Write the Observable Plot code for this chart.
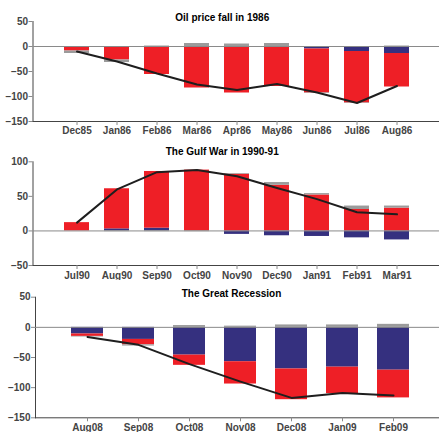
<!DOCTYPE html>
<html><head><meta charset="utf-8">
<script src="https://cdn.jsdelivr.net/npm/d3@7"></script>
<script src="https://cdn.jsdelivr.net/npm/@observablehq/plot@0.6"></script>
<style>
body{margin:0;background:#fff;}
#chart svg{display:block;}
#chart svg g[aria-label*="axis"] line, #chart svg g[aria-label*="axis"] path{stroke:#8a8a8a;}
#chart svg g[aria-label="title"] text{letter-spacing:-0.5px;}
</style></head><body><div id="chart"></div>
<script>
// series (stack order: blue, red, gray)
const seriesNames = ["Aggregate demand", "Oil-specific demand", "Oil supply"];
const seriesColors = ["#35307f", "#ee1f26", "#9b9b9b"];

// Panel 1: Oil price fall in 1986
const p1Title = "Oil price fall in 1986";
const p1Months = ["Dec85","Jan86","Feb86","Mar86","Apr86","May86","Jun86","Jul86","Aug86"];
const p1Blue = [-1, -1, 0, -2, -2, -2, -5, -10, -14];
const p1Red  = [-8, -26, -56, -81, -91, -78, -88, -103, -67];
const p1Gray = [-5, -5, 1, 6, 5, 6, -1, -1, 1];
const p1Line = [-10, -30, -54, -76, -87, -75, -92, -113, -79];
const p1Ticks = [-150, -100, -50, 0, 50];

// Panel 2: The Gulf War in 1990-91
const p2Title = "The Gulf War in 1990-91";
const p2Months = ["Jul90","Aug90","Sep90","Oct90","Nov90","Dec90","Jan91","Feb91","Mar91"];
const p2Blue = [0, 3, 4, 0, -5, -7, -8, -10, -13];
const p2Red  = [12, 58, 82, 88, 82, 66, 52, 31, 33];
const p2Gray = [0, -1, -1, -1, 1, 4, 2, 5, 3];
const p2Line = [12, 60, 85, 88, 79, 62, 46, 27, 24];
const p2Ticks = [-50, 0, 50, 100];

// Panel 3: The Great Recession
const p3Title = "The Great Recession";
const p3Months = ["Aug08","Sep08","Oct08","Nov08","Dec08","Jan09","Feb09"];
const p3Blue = [-11, -20, -46, -57, -69, -66, -71];
const p3Red  = [-4, -9, -17, -37, -51, -44, -46];
const p3Gray = [-1, -2, 3, 2, 4, 4, 5];
const p3Line = [-16, -29, -61, -90, -117, -109, -113];
const p3Ticks = [-150, -100, -50, 0, 50];

function panel(o) {
  const rows = [];
  o.months.forEach((m, i) => o.comps.forEach((arr, k) => rows.push({month: m, series: seriesNames[k], value: arr[i]})));
  const lineRows = o.months.map((m, i) => ({month: m, value: o.line[i]}));
  const pi = 0.38;
  return Plot.plot({
    width: 439, height: o.height,
    marginTop: o.mt, marginBottom: o.mb, marginLeft: o.ml, marginRight: 0,
    style: {fontFamily: "'Liberation Sans', Arial, sans-serif", fontSize: "10px", fontWeight: "bold", color: "#444", background: "white"},
    x: {domain: o.months, range: o.xRange, paddingInner: pi, paddingOuter: (1 + pi) / 2, align: 0.5,
        tickSize: 4, tickPadding: o.xPad, line: true, label: null},
    y: {domain: o.yDomain, ticks: o.yTicks, tickSize: 4, tickPadding: 1, line: true, label: null},
    color: {domain: seriesNames, range: seriesColors},
    marks: [
      Plot.barY(rows, {x: "month", y: "value", fill: "series"}),
      Plot.ruleY([0], {stroke: "#8a8a8a", strokeWidth: 1}),
      Plot.lineY(lineRows, {x: "month", y: "value", stroke: "#1e1e1e", strokeWidth: 2, curve: "linear"}),
      Plot.text([o.title], {text: d => d, frameAnchor: "top", dx: o.tdx, dy: o.tdy, fill: "black",
        fontSize: 10, fontWeight: "bold", ariaLabel: "title"})
    ]
  });
}

const chart = document.getElementById("chart");
chart.appendChild(panel({title: p1Title, months: p1Months, comps: [p1Blue, p1Red, p1Gray], line: p1Line,
  yDomain: [-150, 50], yTicks: p1Ticks, height: 140, mt: 21, mb: 19, ml: 32.5, xRange: [32.5, 440],
  xPad: 1, tdx: -14, tdy: -8}));
chart.appendChild(panel({title: p2Title, months: p2Months, comps: [p2Blue, p2Red, p2Gray], line: p2Line,
  yDomain: [-50, 100], yTicks: p2Ticks, height: 140, mt: 21.3, mb: 15, ml: 32.5, xRange: [32.5, 440],
  xPad: 2.5, tdx: -14, tdy: -14}));
chart.appendChild(panel({title: p3Title, months: p3Months, comps: [p3Blue, p3Red, p3Gray], line: p3Line,
  yDomain: [-150, 50], yTicks: p3Ticks, height: 152, mt: 16.7, mb: 14.7, ml: 35, xRange: [35, 444.6],
  xPad: 2, tdx: -6, tdy: -7.7}));
</script></body></html>
